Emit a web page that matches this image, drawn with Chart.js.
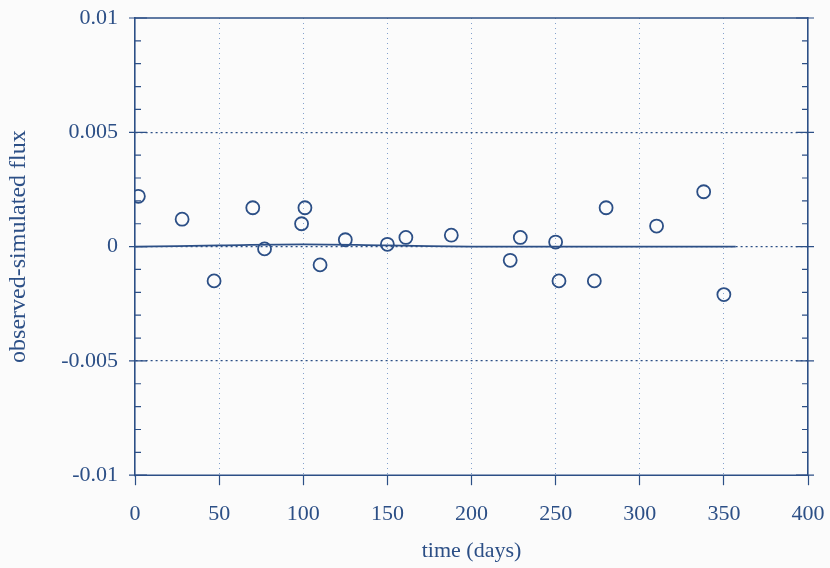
<!DOCTYPE html>
<html>
<head>
<meta charset="utf-8">
<script src="https://cdn.jsdelivr.net/npm/chart.js@4/dist/chart.umd.min.js"></script>
<style>
  html, body { margin: 0; padding: 0; background: #fbfbfb; }
  #wrap { width: 830px; height: 568px; }
</style>
</head>
<body>
<div id="wrap"><canvas id="chartCanvas" width="830" height="568"></canvas></div>
<script>
// observations: residual flux vs time
const obsDays = [2, 28, 47, 70, 77, 99, 101, 110, 125, 150, 161, 188, 223, 229, 250, 252, 273, 280, 310, 338, 350];
const obsResidual = [0.0022, 0.0012, -0.0015, 0.0017, -0.0001, 0.001, 0.0017, -0.0008, 0.0003, 0.0001, 0.0004, 0.0005,
  -0.0006, 0.0004, 0.0002, -0.0015, -0.0015, 0.0017, 0.0009, 0.0024, -0.0021];

// solid reference curve near zero
const modelDays = [0, 50, 100, 150, 200, 250, 300, 357];
const modelFlux = [0, 0.00005, 0.0001, 0.00005, 0, 0, 0, 0];

// axis ranges / labels
const xRange = [0, 400];
const yRange = [-0.01, 0.01];
const yMajorLabels = { '10': '0.01', '5': '0.005', '0': '0', '-5': '-0.005', '-10': '-0.01' };

const ink = '#2c4f86';
const gridBlue = 'rgba(110,145,195,0.85)';
const serif = "'Liberation Serif', 'DejaVu Serif', serif";

const ctx = document.getElementById('chartCanvas').getContext('2d');

// frame lines at +/-0.01 and inward ticks on left/right axes
const framePlugin = {
  id: 'frame',
  afterDatasetsDraw(chart) {
    const { ctx, scales: { x, y }, chartArea } = chart;
    ctx.save();
    ctx.strokeStyle = ink;
    ctx.lineWidth = 1.6;
    [yRange[0], yRange[1]].forEach(v => {
      const py = y.getPixelForValue(v);
      ctx.beginPath();
      ctx.moveTo(x.getPixelForValue(xRange[0]), py);
      ctx.lineTo(x.getPixelForValue(xRange[1]), py);
      ctx.stroke();
    });
    ctx.lineWidth = 1.2;
    y.ticks.forEach(t => {
      const py = y.getPixelForValue(t.value);
      const major = Math.round(t.value * 1000) % 5 === 0;
      const xl = chartArea.left, xr = chartArea.right;
      ctx.beginPath();
      if (major) {
        ctx.moveTo(xl - 6, py); ctx.lineTo(xl + 12, py);
        ctx.moveTo(xr - 12, py); ctx.lineTo(xr + 6, py);
      } else {
        ctx.moveTo(xl, py); ctx.lineTo(xl + 6, py);
        ctx.moveTo(xr - 6, py); ctx.lineTo(xr, py);
      }
      ctx.stroke();
    });
    ctx.restore();
  }
};

new Chart(ctx, {
  type: 'scatter',
  data: {
    datasets: [
      {
        type: 'line',
        label: 'model',
        data: modelDays.map((d, i) => ({ x: d, y: modelFlux[i] })),
        borderColor: ink,
        borderWidth: 1.8,
        pointRadius: 0,
        tension: 0.4,
        fill: false
      },
      {
        label: 'observed',
        data: obsDays.map((d, i) => ({ x: d, y: obsResidual[i] })),
        pointStyle: 'circle',
        pointRadius: 6.5,
        pointBorderWidth: 1.8,
        pointBorderColor: ink,
        pointBackgroundColor: 'rgba(0,0,0,0)'
      }
    ]
  },
  plugins: [framePlugin],
  options: {
    responsive: false,
    animation: false,
    layout: { padding: { top: 18, right: 22, bottom: 4, left: 0 } },
    plugins: {
      legend: { display: false },
      tooltip: { enabled: false }
    },
    scales: {
      x: {
        type: 'linear',
        min: xRange[0],
        max: xRange[1],
        afterFit: s => { s.paddingRight = 0; s.paddingLeft = 0; },
        ticks: {
          stepSize: 50,
          color: ink,
          padding: 16,
          font: { family: serif, size: 22 }
        },
        grid: {
          color: c => (c.tick && (c.tick.value === xRange[0] || c.tick.value === xRange[1])) ? 'rgba(0,0,0,0)' : gridBlue,
          lineWidth: 1,
          tickLength: 10,
          tickColor: ink,
          tickWidth: 1.2
        },
        border: { display: false, dash: [1, 4] },
        title: {
          display: true,
          text: 'time (days)',
          color: ink,
          padding: { top: -6, bottom: 0 },
          font: { family: serif, size: 22 }
        }
      },
      y: {
        type: 'linear',
        min: yRange[0],
        max: yRange[1],
        afterFit: s => { s.width = 135; s.paddingTop = 0; s.paddingBottom = 0; },
        ticks: {
          stepSize: 0.001,
          autoSkip: false,
          color: ink,
          padding: 17,
          font: { family: serif, size: 22 },
          callback: v => {
            const k = String(Math.round(v * 1000));
            return yMajorLabels[k] !== undefined ? yMajorLabels[k] : '';
          }
        },
        grid: {
          drawTicks: false,
          color: c => {
            const k = Math.round(c.tick.value * 1000);
            return (k % 5 === 0 && Math.abs(k) !== 10) ? ink : 'rgba(0,0,0,0)';
          },
          lineWidth: 1.3
        },
        border: { display: true, color: ink, width: 1.6, dash: [2, 3] },
        title: {
          display: true,
          text: 'observed-simulated flux',
          color: ink,
          padding: { top: 4, bottom: 0 },
          font: { family: serif, size: 24 }
        }
      },
      y2: {
        type: 'linear',
        position: 'right',
        min: yRange[0],
        max: yRange[1],
        afterFit: s => { s.paddingTop = 0; s.paddingBottom = 0; },
        ticks: { display: false },
        grid: { drawOnChartArea: false, drawTicks: false },
        border: { display: true, color: ink, width: 1.6 }
      }
    }
  }
});
</script>
</body>
</html>
